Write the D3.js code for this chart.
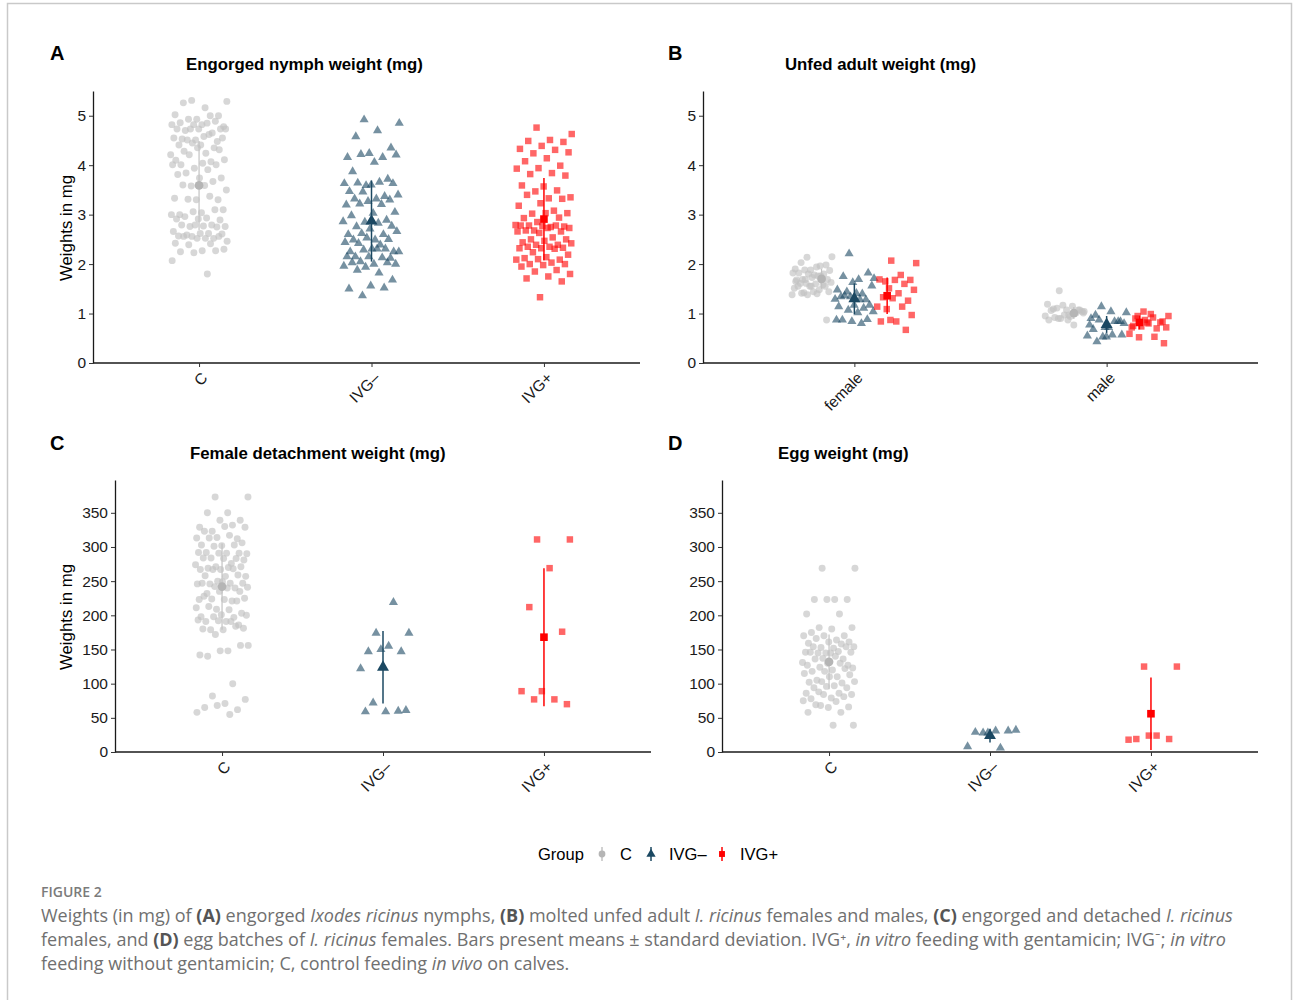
<!DOCTYPE html>
<meta charset="utf-8">
<style>
body { margin: 0; background: #fff; }
svg { display: block; font-family: "Liberation Sans", Arial, sans-serif; }
.caption { font-family: "Open Sans", Lato, sans-serif; }
</style>
<svg width="1293" height="1000"></svg>
<script src="https://d3js.org/d3.v7.min.js"></script>
<script>
// ---- data ----
const groups = ["C", "IVG–", "IVG+"]
const sexes = ["female", "male"]

// A: engorged nymph weight (mg)
const nymphC = [5.31,5.29,5.16,5.26,5.00,4.93,5.02,5.00,4.93,4.78,4.82,4.86,4.89,4.82,4.82,4.85,4.70,4.73,4.73,4.73,4.65,4.73,4.73,4.58,4.53,4.48,4.51,4.55,4.62,4.51,4.55,4.41,4.41,4.35,4.45,4.21,4.24,4.28,4.31,4.35,4.10,4.07,4.21,4.11,4.04,4.01,4.01,3.94,4.01,3.91,3.84,3.74,3.74,3.81,3.67,3.58,3.50,3.59,3.60,3.30,3.30,3.33,3.37,3.31,3.10,3.04,3.00,3.10,3.06,3.00,2.93,2.96,2.89,2.91,2.91,2.79,2.76,2.76,2.77,2.79,2.75,2.79,2.66,2.62,2.59,2.61,2.62,2.57,2.52,2.56,2.46,2.52,2.56,2.56,2.52,2.42,2.41,2.39,2.30,2.27,2.25,2.27,2.23,2.07,1.80]
const nymphIVGm = [4.92,4.85,4.70,4.58,4.35,4.24,4.16,4.16,4.22,4.21,4.06,3.87,3.72,3.59,3.63,3.66,3.64,3.63,3.60,3.47,3.37,3.46,3.40,3.32,3.32,3.30,3.27,3.20,3.21,3.22,3.05,3.03,2.98,2.89,2.85,2.86,2.83,2.76,2.77,2.71,2.60,2.60,2.62,2.66,2.49,2.49,2.50,2.53,2.44,2.39,2.42,2.25,2.31,2.25,2.31,2.29,2.25,2.31,2.15,2.12,2.15,2.15,2.13,2.05,2.00,2.00,2.03,2.03,1.94,1.96,1.82,1.88,1.68,1.56,1.50,1.52,1.36]
const nymphIVGp = [4.76,4.63,4.51,4.49,4.47,4.39,4.33,4.31,4.24,4.26,4.14,4.08,3.99,3.94,3.93,3.84,3.82,3.79,3.57,3.59,3.49,3.47,3.35,3.33,3.40,3.32,3.23,3.18,3.08,3.02,3.03,3.03,2.93,2.94,2.85,2.79,2.75,2.78,2.76,2.77,2.78,2.78,2.68,2.73,2.73,2.68,2.66,2.63,2.66,2.54,2.50,2.50,2.47,2.44,2.39,2.39,2.42,2.35,2.35,2.33,2.32,2.32,2.31,2.24,2.19,2.14,2.12,2.09,2.10,2.09,2.03,2.00,2.00,1.98,1.95,1.88,1.85,1.80,1.75,1.71,1.65,1.33]
const nymphMean = [3.59, 2.87, 2.91]
const nymphSd = [0.90, 0.82, 0.83]

// B: unfed adult weight (mg), by sex
const femaleC = [2.14,2.15,1.94,2.03,1.98,1.88,1.90,1.96,1.88,1.87,1.78,1.82,1.80,1.80,1.82,1.76,1.69,1.69,1.73,1.68,1.68,1.61,1.63,1.60,1.61,1.55,1.55,1.51,1.48,1.42,1.44,1.44,1.55,1.58,1.38,1.38,1.40,1.41,0.87,1.55,1.65,1.76,1.69]
const femaleIVGm = [2.21,1.71,1.69,1.75,1.82,1.63,1.48,1.40,1.44,1.56,1.41,1.34,1.28,1.34,1.29,1.28,1.36,1.17,1.17,1.14,1.11,1.07,1.04,1.02,0.87,0.88,0.84,0.87,0.80]
const femaleIVGp = [2.07,2.02,1.78,1.65,1.68,1.68,1.69,1.60,1.51,1.48,1.41,1.33,1.26,1.31,1.14,1.14,1.09,0.97,0.84,0.84,0.67,0.87]
const maleC = [1.46,1.04,0.97,1.09,1.07,1.17,1.19,1.15,1.11,1.04,1.07,1.06,1.01,0.90,0.95,0.94,0.92,1.07,0.97,0.87,0.77,0.90,1.01,0.87]
const maleIVGm = [1.14,1.02,1.04,0.97,0.84,0.72,0.77,0.84,0.87,0.80,0.72,0.68,0.84,0.53,0.55,0.57,0.43,0.57,0.53,0.90]
const maleIVGp = [1.04,0.95,0.92,0.95,0.84,0.82,0.72,0.70,0.74,0.72,0.99,0.90,0.82,0.87,0.59,0.53,0.52,0.40,0.80,0.75]
const femaleMean = [1.70, 1.30, 1.36]
const femaleSd = [0.20, 0.31, 0.37]
const maleMean = [1.01, 0.78, 0.82]
const maleSd = [0.12, 0.17, 0.14]

// C: female detachment weight (mg)
const detachC = [373,373,350,350,339,339,329,332,323,329,330,323,312,314,313,317,313,306,302,303,303,301,290,291,292,291,291,292,276,284,281,283,284,283,271,274,270,269,271,267,267,268,267,257,257,258,259,250,246,247,246,247,249,247,240,242,241,240,232,235,235,223,221,224,225,223,228,221,209,211,208,213,203,201,198,197,198,200,191,191,186,192,193,191,179,181,179,180,184,172,156,148,140,156,148,142,100,82,77,71,65,62,68,58,55]
const detachIVGm = [174,174,155,147,147,150,122,219,72,61,59,59,60]
const detachIVGp = [311,311,269,212,176,89,89,77,77,70]
const detachMean = [242, 124, 168]
const detachSd = [63, 53, 101]

// D: egg weight (mg)
const eggC = [269,269,223,223,223,223,202,202,182,182,180,175,170,170,170,164,166,161,161,159,158,153,154,152,154,154,145,146,147,145,146,145,146,136,137,131,140,136,127,130,127,130,124,123,120,118,122,118,115,110,105,113,110,102,101,103,103,97,94,94,96,86,86,88,84,79,78,81,84,75,74,69,66,65,58,58,68,39,39]
const eggIVGm = [28,32,31,29,31,28,8,6]
const eggIVGp = [125,125,24,19,19,24,18]
const eggMean = [132, 24, 56]
const eggSd = [40, 10, 53]

// ---- style ----
const colours = ["#c2c2c2", "#1b4862", "#ff0000"]
const shapes = [d3.symbolCircle, d3.symbolTriangle, d3.symbolSquare]
const ptSize = [38, 36, 42]
const meanSize = [60, 62, 58]

const svg = d3.select("svg")

// frame of the figure box
svg.append("path")
  .attr("d", "M7.5,1000 V3.5 H1291.5 V1000")
  .attr("fill", "none").attr("stroke", "#c9c9c9").attr("stroke-width", 1.5)

const jitter = i => ((i * 0.6180339887 + 0.37) % 1) - 0.5

function drawPanel(p) {
  const g = svg.append("g")
  const x = d3.scalePoint().domain(p.cats).range([p.left, p.right]).padding(p.pad)
  const y = d3.scaleLinear().domain(p.yDomain).range([p.bottom, p.top])
  const step = x.step()

  const xa = g.append("g").attr("transform", `translate(0,${p.bottom})`)
    .call(d3.axisBottom(x).tickSize(4).tickSizeOuter(0))
  xa.select(".domain").attr("d", `M${p.left},0H${p.axisEnd}`)
  xa.selectAll("text")
    .attr("x", 0).attr("y", 0).attr("dy", "0.35em")
    .attr("text-anchor", "end")
    .attr("transform", "translate(5,12) rotate(-45)")
  const ya = g.append("g").attr("transform", `translate(${p.left},0)`)
    .call(d3.axisLeft(y).tickValues(p.ticks).tickFormat(d3.format("d")).tickSize(4).tickSizeOuter(0))
  ya.selectAll("text").attr("x", -7)
  g.selectAll(".tick text").attr("font-size", 15.5).attr("fill", "#1a1a1a")
    .attr("font-family", "'Liberation Sans', Arial, sans-serif")
  g.selectAll(".domain").attr("stroke", "#1a1a1a").attr("stroke-width", 1.3)
  g.selectAll(".tick line").attr("stroke", "#333")

  p.series.forEach(s => {
    const cx = x(s.cat) + s.offset * step
    g.append("g").selectAll("path").data(s.values).join("path")
      .attr("d", d3.symbol(shapes[s.g], ptSize[s.g]))
      .attr("transform", (v, i) => `translate(${cx + jitter(i) * 2 * p.jit * step},${y(v)})`)
      .attr("fill", colours[s.g]).attr("fill-opacity", s.g === 0 ? 0.65 : 0.6)
  })
  p.series.forEach(s => {
    const mx = x(s.cat) + s.meanOffset * step
    g.append("line")
      .attr("x1", mx).attr("x2", mx)
      .attr("y1", y(Math.max(0, s.mean - s.sd))).attr("y2", y(s.mean + s.sd))
      .attr("stroke", colours[s.g]).attr("stroke-width", s.g === 0 ? 1.2 : 1.5)
    g.append("path")
      .attr("d", d3.symbol(shapes[s.g], meanSize[s.g]))
      .attr("transform", `translate(${mx},${y(s.mean)})`)
      .attr("fill", s.g === 0 ? "#b5b5b5" : colours[s.g])
  })

  g.append("text").attr("x", p.tagX).attr("y", p.tagY)
    .attr("font-size", 20).attr("font-weight", "bold").attr("fill", "#000").text(p.tag)
  g.append("text").attr("x", p.titleX).attr("y", p.titleY)
    .attr("font-size", 16.8).attr("font-weight", "bold").attr("fill", "#000").text(p.title)
  if (p.ylab) {
    g.append("text")
      .attr("transform", `translate(72,${(p.top + p.bottom) / 2 + 1}) rotate(-90)`)
      .attr("text-anchor", "middle").attr("font-size", 16.8).attr("fill", "#000")
      .text("Weights in mg")
  }
}

const simple = (vals, means, sds) => groups.map((gName, gi) => ({
  cat: gName, g: gi, values: vals[gi], mean: means[gi], sd: sds[gi], offset: 0, meanOffset: 0
}))
const bySex = []
;[[femaleC, femaleIVGm, femaleIVGp], [maleC, maleIVGm, maleIVGp]].forEach((vals, si) => {
  const means = si === 0 ? femaleMean : maleMean
  const sds = si === 0 ? femaleSd : maleSd
  groups.forEach((gName, gi) => bySex.push({
    cat: sexes[si], g: gi, values: vals[gi], mean: means[gi], sd: sds[gi],
    offset: (gi - 1) * 0.167, meanOffset: (gi - 1) * 0.13
  }))
})

const panels = [
  { tag: "A", tagX: 50, tagY: 60, title: "Engorged nymph weight (mg)", titleX: 186, titleY: 70, ylab: true,
    cats: groups, left: 93, right: 650, axisEnd: 640, pad: 0.615, bottom: 363, top: 91, yDomain: [0, 5.5],
    ticks: [0, 1, 2, 3, 4, 5], jit: 0.165, series: simple([nymphC, nymphIVGm, nymphIVGp], nymphMean, nymphSd) },
  { tag: "B", tagX: 668, tagY: 60, title: "Unfed adult weight (mg)", titleX: 785, titleY: 70, ylab: false,
    cats: sexes, left: 703, right: 1258, axisEnd: 1258, pad: 0.6, bottom: 363, top: 91, yDomain: [0, 5.5],
    ticks: [0, 1, 2, 3, 4, 5], jit: 0.08, series: bySex },
  { tag: "C", tagX: 50, tagY: 450, title: "Female detachment weight (mg)", titleX: 190, titleY: 459, ylab: true,
    cats: groups, left: 115, right: 651, axisEnd: 651, pad: 0.665, bottom: 752, top: 480, yDomain: [0, 398],
    ticks: d3.range(0, 351, 50), jit: 0.165, series: simple([detachC, detachIVGm, detachIVGp], detachMean, detachSd) },
  { tag: "D", tagX: 668, tagY: 450, title: "Egg weight (mg)", titleX: 778, titleY: 459, ylab: false,
    cats: groups, left: 722, right: 1258, axisEnd: 1258, pad: 0.665, bottom: 752, top: 480, yDomain: [0, 398],
    ticks: d3.range(0, 351, 50), jit: 0.165, series: simple([eggC, eggIVGm, eggIVGp], eggMean, eggSd) }
]
panels.forEach(drawPanel)

// ---- legend ----
const legend = svg.append("g").attr("font-size", 16.5).attr("fill", "#000")
legend.append("text").attr("x", 538).attr("y", 860).text("Group")
const legX = [602, 651, 722]
groups.forEach((gName, gi) => {
  const lg = legend.append("g").attr("transform", `translate(${legX[gi]},854)`)
  lg.append("line").attr("y1", -7).attr("y2", 7).attr("stroke", colours[gi]).attr("stroke-width", 1.5)
  lg.append("path").attr("d", d3.symbol(shapes[gi], meanSize[gi] * 0.6)).attr("fill", gi === 0 ? "#b5b5b5" : colours[gi])
  lg.append("text").attr("x", 18).attr("y", 6).text(gName)
})

// ---- caption ----
const cap = svg.append("g").attr("class", "caption")
cap.append("text").attr("x", 41).attr("y", 897).attr("font-size", 14).attr("font-weight", 600)
  .attr("fill", "#7b7b7b").text("FIGURE 2")
const capLines = [
  [["Weights (in mg) of ", ""], ["(A)", "b"], [" engorged ", ""], ["Ixodes ricinus", "i"], [" nymphs, ", ""], ["(B)", "b"],
   [" molted unfed adult ", ""], ["I. ricinus", "i"], [" females and males, ", ""], ["(C)", "b"], [" engorged and detached ", ""], ["I. ricinus", "i"]],
  [["females, and ", ""], ["(D)", "b"], [" egg batches of ", ""], ["I. ricinus", "i"],
   [" females. Bars present means ± standard deviation. IVG⁺, ", ""], ["in vitro", "i"], [" feeding with gentamicin; IVG⁻; ", ""], ["in vitro", "i"]],
  [["feeding without gentamicin; C, control feeding ", ""], ["in vivo", "i"], [" on calves.", ""]]
]
capLines.forEach((line, li) => {
  const t = cap.append("text").attr("x", 41).attr("y", 922 + li * 24).attr("font-size", 18).attr("fill", "#707070")
  line.forEach(([str, st]) => {
    t.append("tspan").text(str)
      .attr("font-weight", st === "b" ? 700 : null)
      .attr("fill", st === "b" ? "#555" : null)
      .attr("font-style", st === "i" ? "italic" : null)
  })
})
</script>
